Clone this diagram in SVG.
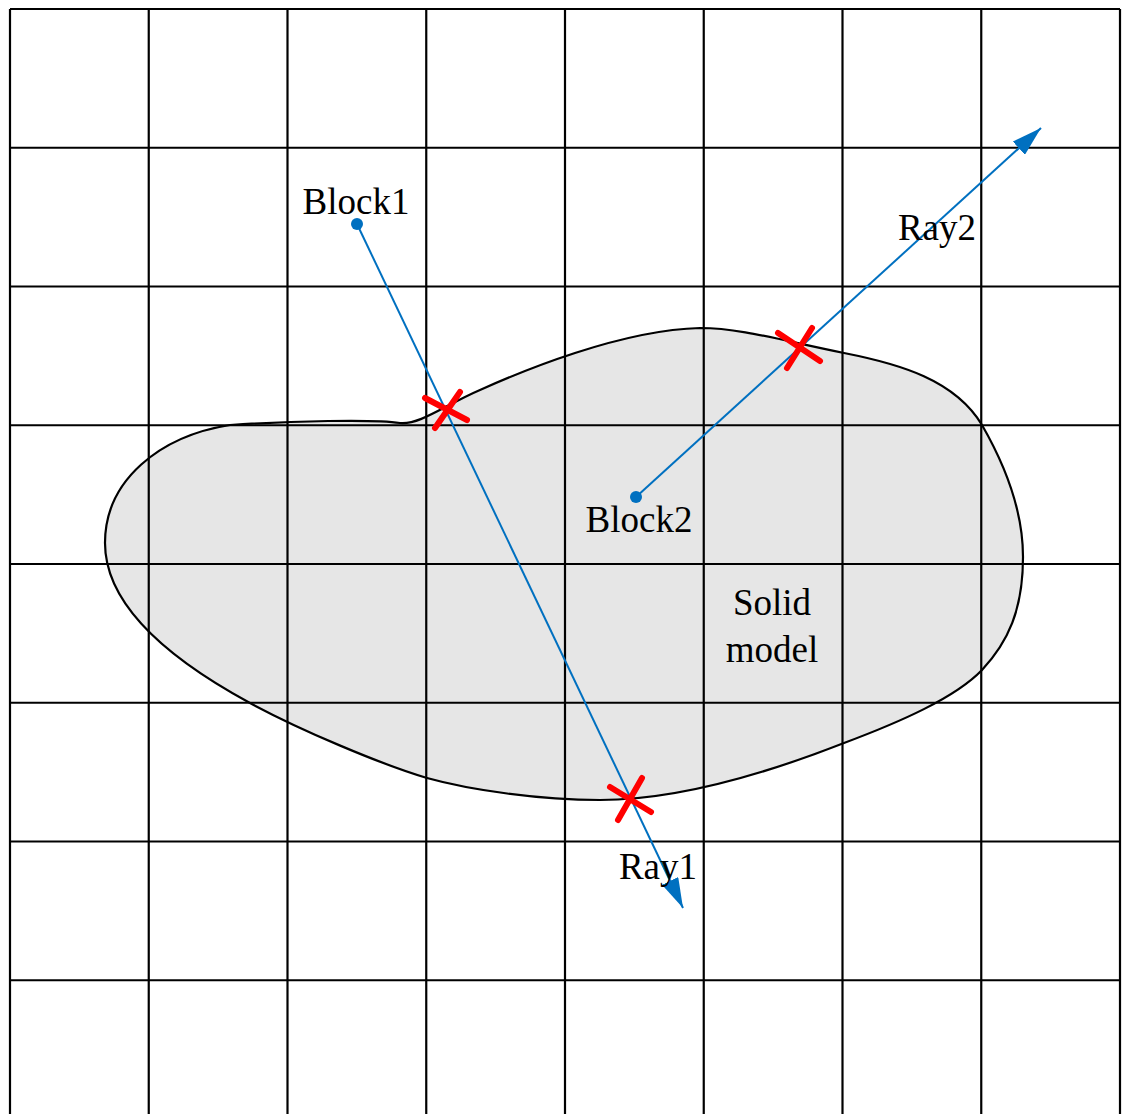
<svg xmlns="http://www.w3.org/2000/svg" width="1126" height="1114" viewBox="0 0 1126 1114">
<style>
.grid line{stroke:#000;stroke-width:2.2}
.blob{fill:#e6e6e6;stroke:#000;stroke-width:2.2}
.ray{stroke:#0070c0;stroke-width:2;fill:none}
.dot{fill:#0070c0}
.hit line{stroke:#ff0000;stroke-width:6;stroke-linecap:round}
text{font-family:"Liberation Serif","Times New Roman",serif;font-size:37px;fill:#000}
</style>
<defs>
<marker id="arr" viewBox="0 0 30 18" refX="30" refY="9" markerWidth="30" markerHeight="18" markerUnits="userSpaceOnUse" orient="auto">
<path d="M0,0 L30,9 L0,18 z" fill="#0070c0"/>
</marker>
</defs>
<rect x="0" y="0" width="1126" height="1114" fill="#fff"/>
<g id="solid-model">
<path class="blob" d="M230,425 C290,421 375,419 400,423 C420,425 445,405 480,390 C520,372 620,330 700,328 C740,328 780,340 844,353 C900,364 955,380 982,425 C1005,465 1023,510 1023,557 C1023,610 1008,642 982,670 C955,698 900,722 844,743 C770,772 680,800 600,800 C540,800 470,790 427,778 C380,764 300,730 250,703 C180,665 105,610 105,543 C105,480 160,436 230,425 Z"/>
<text x="772" y="615" text-anchor="middle">Solid</text>
<text x="772" y="662" text-anchor="middle">model</text>
</g>
<g class="grid" id="grid">
<line x1="10" y1="9" x2="10" y2="1114"/>
<line x1="148.75" y1="9" x2="148.75" y2="1114"/>
<line x1="287.5" y1="9" x2="287.5" y2="1114"/>
<line x1="426.25" y1="9" x2="426.25" y2="1114"/>
<line x1="565" y1="9" x2="565" y2="1114"/>
<line x1="703.75" y1="9" x2="703.75" y2="1114"/>
<line x1="842.5" y1="9" x2="842.5" y2="1114"/>
<line x1="981.25" y1="9" x2="981.25" y2="1114"/>
<line x1="1120" y1="9" x2="1120" y2="1114"/>
<line x1="10" y1="9" x2="1120" y2="9"/>
<line x1="10" y1="147.75" x2="1120" y2="147.75"/>
<line x1="10" y1="286.5" x2="1120" y2="286.5"/>
<line x1="10" y1="425.25" x2="1120" y2="425.25"/>
<line x1="10" y1="564" x2="1120" y2="564"/>
<line x1="10" y1="702.75" x2="1120" y2="702.75"/>
<line x1="10" y1="841.5" x2="1120" y2="841.5"/>
<line x1="10" y1="980.25" x2="1120" y2="980.25"/>
</g>
<g id="connectors">
<line class="ray" x1="357" y1="224" x2="683" y2="908" marker-end="url(#arr)"/>
<line class="ray" x1="636" y1="497" x2="1041" y2="128" marker-end="url(#arr)"/>
</g>
<g id="block1">
<circle class="dot" cx="357" cy="224" r="6"/>
<text x="356" y="214" text-anchor="middle">Block1</text>
</g>
<g id="block2">
<circle class="dot" cx="636" cy="497" r="6"/>
<text x="639" y="532" text-anchor="middle">Block2</text>
</g>
<g id="ray1-label"><text x="658" y="879" text-anchor="middle">Ray1</text></g>
<g id="ray2-label"><text x="937" y="240" text-anchor="middle">Ray2</text></g>
<g class="hit" id="hits">
<g id="hit1"><line x1="425" y1="398" x2="467" y2="420"/><line x1="460" y1="392" x2="435" y2="428"/></g>
<g id="hit2"><line x1="778" y1="333" x2="820" y2="361"/><line x1="812" y1="328" x2="787" y2="368"/></g>
<g id="hit3"><line x1="610" y1="787" x2="651" y2="812"/><line x1="642" y1="778" x2="618" y2="820"/></g>
</g>
</svg>
